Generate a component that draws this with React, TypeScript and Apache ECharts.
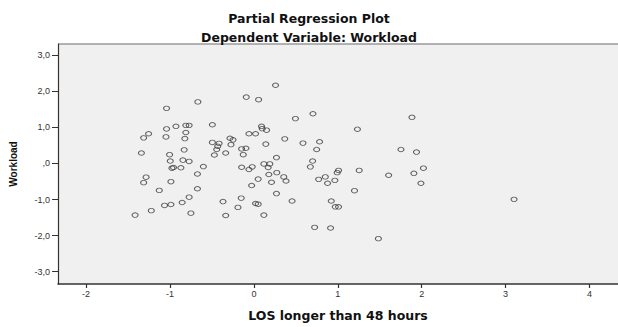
import React, { useEffect, useRef } from "react";
import * as echarts from "echarts";

const titleText = "Partial Regression Plot";
const subtitleText = "Dependent Variable: Workload";
const xAxisName = "LOS longer than 48 hours";
const yAxisName = "Workload";

const xTicks = [-2, -1, 0, 1, 2, 3, 4];
const yTicks = [-3, -2, -1, 0, 1, 2, 3];

// Residualised LOS (x) values
const losValues = [
  -0.668, -1.041, -0.495, -0.929, -0.811, -0.772, -1.041, -1.255, -1.314, -1.048,
  -0.811, -0.823, -1.341, -0.831, -1.005, -0.495, -0.415, -0.285, -0.249, -0.273,
  -0.431, -0.443, -0.471, -0.336, -0.146, -0.095, -0.127, -0.997, -0.846, -0.772,
  -0.977, -0.958, -0.870, -0.602, -0.673, -0.146, -0.059, -0.020, -1.285, -1.314,
  -0.989, -1.128, -0.673, 0.051, -0.027, -0.772, -0.855, -1.065, -0.989, -1.223,
  -1.416, -0.751, -0.368, -0.151, -0.190, -0.336, 0.020, 0.051, 0.258, -0.091,
  0.056, 0.495, 0.704, 1.884, 1.234, 0.091, 0.099, 0.151, -0.059, 0.020,
  0.368, 0.142, 0.585, 0.783, 0.748, 1.753, 1.938, 0.269, 0.700, 0.673,
  0.119, 0.190, 0.170, 1.009, 0.993, 1.255, 1.606, 1.907, 2.021, 0.273,
  0.178, 0.356, 0.383, 0.210, 0.772, 0.851, 0.965, 0.878, 1.991, 0.269,
  1.199, 0.455, 0.922, 0.970, 1.009, 0.119, 0.724, 0.914, 1.484, 3.101,
];

// Residualised Workload (y) values
const workloadValues = [
  1.706, 1.527, 1.072, 1.029, 1.056, 1.056, 0.957, 0.824, 0.709, 0.735,
  0.858, 0.690, 0.289, 0.377, 0.243, 0.583, 0.556, 0.698, 0.655, 0.521,
  0.476, 0.388, 0.235, 0.289, 0.404, 0.422, 0.243, 0.067, 0.094, 0.056,
  -0.131, -0.112, -0.120, -0.086, -0.291, -0.104, -0.166, -0.094, -0.380, -0.532,
  -0.505, -0.746, -0.701, -0.433, -0.612, -0.933, -1.083, -1.163, -1.136, -1.307,
  -1.430, -1.377, -1.056, -0.960, -1.217, -1.441, -1.110, -1.128, 2.168, 1.840,
  1.767, 1.243, 1.377, 1.278, 0.949, 1.029, 0.965, 0.922, 0.824, 0.824,
  0.682, 0.537, 0.564, 0.602, 0.388, 0.388, 0.316, 0.163, 0.067, -0.094,
  -0.013, -0.013, -0.112, -0.193, -0.254, -0.193, -0.326, -0.273, -0.131, -0.254,
  -0.307, -0.372, -0.487, -0.521, -0.441, -0.372, -0.468, -0.548, -0.548, -0.834,
  -0.754, -1.040, -1.040, -1.201, -1.201, -1.430, -1.770, -1.789, -2.083, -0.995,
];

const FONT = "'Liberation Sans', Arial, sans-serif";
const WIDE = "'DejaVu Sans', 'Liberation Sans', Arial, sans-serif";

function fmtY(v: number): string {
  if (v === 0) return ",0";
  return v.toFixed(1).replace(".", ",");
}

export default function App() {
  const ref = useRef<HTMLDivElement>(null);

  useEffect(() => {
    if (!ref.current) return;
    const chart = echarts.init(ref.current, undefined, { renderer: "svg" });
    const points = losValues.map((x, i) => [x, workloadValues[i]]);

    chart.setOption({
      animation: false,
      backgroundColor: "#ffffff",
      textStyle: { fontFamily: FONT },
      title: [
        {
          text: titleText,
          left: "center",
          top: 7,
          textStyle: { fontFamily: WIDE, fontSize: 12.5, fontWeight: "bold", color: "#111" },
        },
        {
          text: subtitleText,
          left: "center",
          top: 26,
          textStyle: { fontFamily: WIDE, fontSize: 12.5, fontWeight: "bold", color: "#111" },
        },
      ],
      grid: {
        left: 58,
        top: 44,
        width: 562,
        height: 249,
        show: true,
        backgroundColor: "#f0f0f0",
        borderWidth: 0,
      },
      graphic: [
        {
          type: "line",
          shape: { x1: 58, y1: 44, x2: 620, y2: 44 },
          style: { stroke: "#9a9a9a", lineWidth: 1.5 },
          silent: true,
        },
      ],
      xAxis: {
        type: "value",
        min: -2.335,
        max: 4.34,
        name: xAxisName,
        nameLocation: "middle",
        nameGap: 25,
        nameTextStyle: { fontFamily: WIDE, fontSize: 12.5, fontWeight: "bold", color: "#111" },
        axisLine: { show: true, onZero: false, lineStyle: { color: "#333", width: 1.5 } },
        axisTick: { show: true, length: 4, customValues: xTicks, lineStyle: { color: "#333", width: 1.2 } },
        axisLabel: {
          customValues: xTicks,
          margin: 5,
          fontSize: 9,
          color: "#333",
          fontFamily: FONT,
          formatter: (v: number) => String(Math.round(v)),
        },
        splitLine: { show: false },
      },
      yAxis: {
        type: "value",
        min: -3.34,
        max: 3.31,
        name: yAxisName,
        nameLocation: "middle",
        nameGap: 40,
        nameRotate: 90,
        nameTextStyle: { fontFamily: FONT, fontSize: 10, fontWeight: "bold", color: "#111" },
        axisLine: { show: true, onZero: false, lineStyle: { color: "#333", width: 1.2 } },
        axisTick: { show: true, length: 6, customValues: yTicks, lineStyle: { color: "#333", width: 1 } },
        axisLabel: {
          customValues: yTicks,
          margin: 8,
          fontSize: 9,
          color: "#333",
          fontFamily: FONT,
          formatter: (v: number) => fmtY(v),
        },
        splitLine: { show: false },
      },
      series: [
        {
          type: "scatter",
          data: points,
          symbol: "circle",
          symbolSize: [6, 4.5],
          itemStyle: { color: "rgba(0,0,0,0)", borderColor: "#3a3a3a", borderWidth: 1 },
          emphasis: { disabled: true },
        },
      ],
    });

    return () => chart.dispose();
  }, []);

  return (
    <div
      ref={ref}
      style={{ position: "absolute", left: 0, top: 0, width: 618, height: 327 }}
    />
  );
}
